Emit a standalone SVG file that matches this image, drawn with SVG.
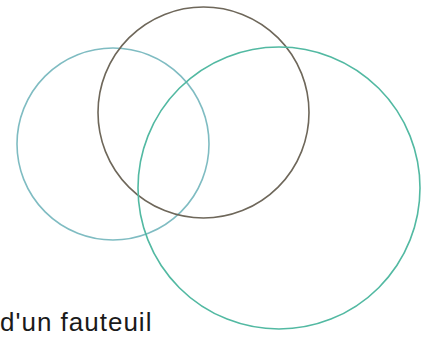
<svg xmlns="http://www.w3.org/2000/svg" width="425" height="337" viewBox="0 0 425 337">
<style>
.c{fill:none;stroke-width:1.6}
.t{font-family:"Liberation Sans",Arial,sans-serif;font-size:26px;letter-spacing:1px;fill:#1a1a1a}
</style>
<rect width="425" height="337" fill="#ffffff"/>
<g id="circle-left"><circle class="c" cx="113" cy="144" r="96" stroke="#7fbcc2"/></g>
<g id="circle-top"><circle class="c" cx="203.5" cy="112.5" r="105.5" stroke="#6e675a"/></g>
<g id="circle-right"><circle class="c" cx="279" cy="188" r="141" stroke="#52b9a2"/></g>
<g id="label"><text class="t" x="0" y="331">d'un fauteuil</text></g>
</svg>
